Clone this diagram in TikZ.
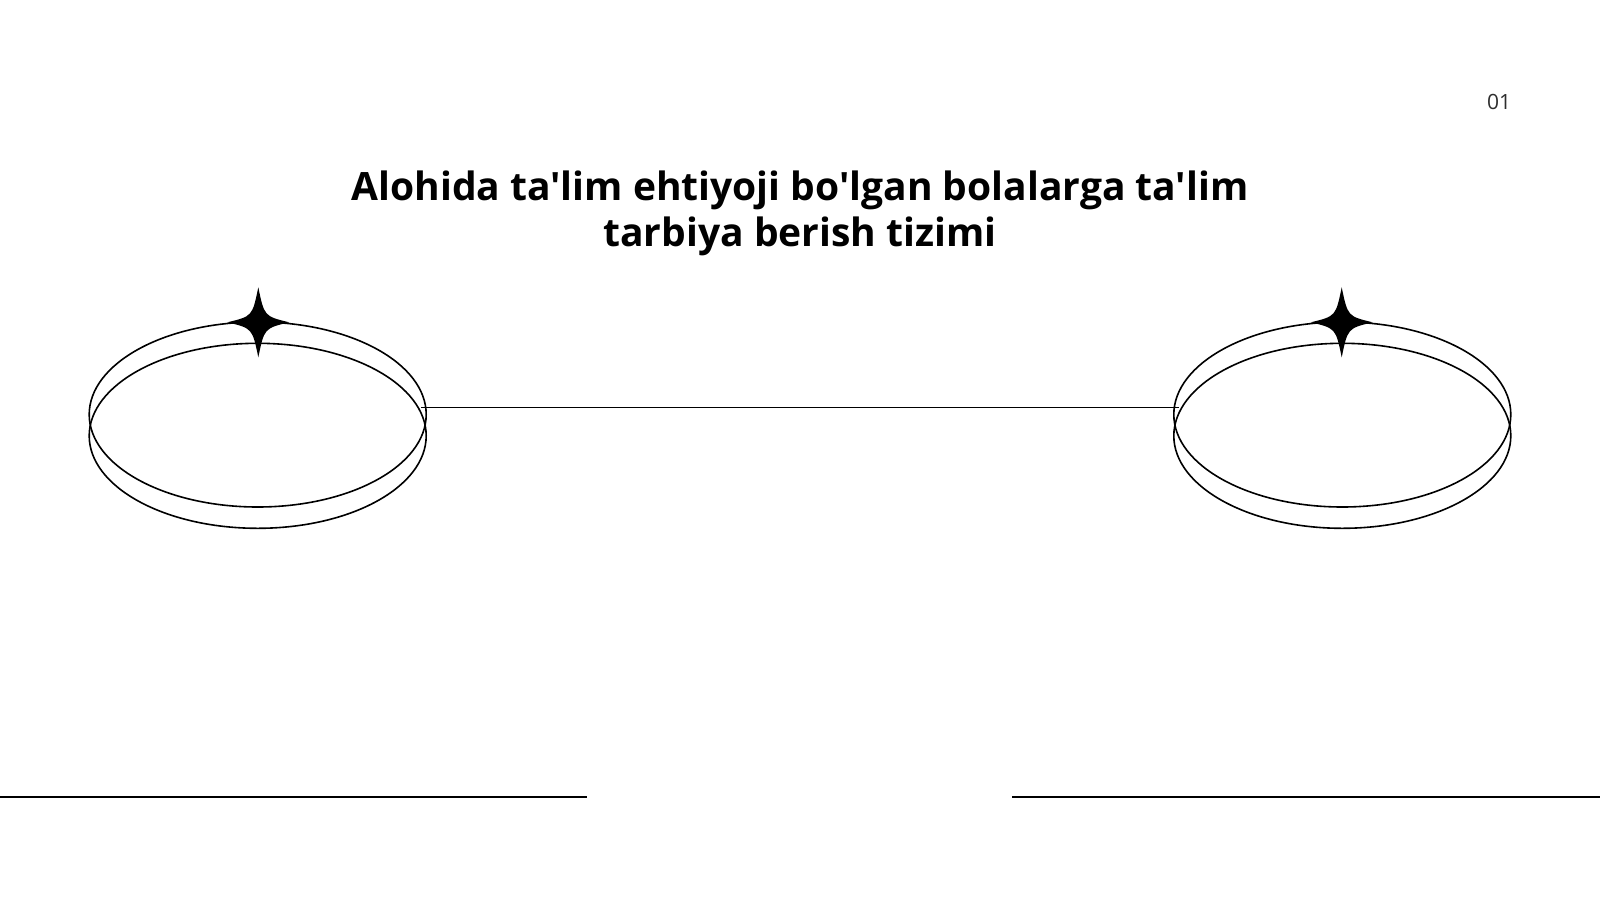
\documentclass[tikz,border=0pt]{standalone}
\usepackage{fontspec}
\newfontfamily\titlefont{Open Sans}
\newfontfamily\numfont{Open Sans}
\usetikzlibrary{shapes.geometric}
\definecolor{numgray}{HTML}{2E2E2E}
\tikzset{
  ring/.style={draw=black, line width=1.6pt, ellipse, inner sep=0pt, minimum width=337pt, minimum height=185pt},
  titletext/.style={font=\titlefont\bfseries\fontsize{39}{46}\selectfont, anchor=base, inner sep=0pt, text=black},
  pagenum/.style={font=\numfont\fontsize{21}{22}\selectfont, text=numgray, anchor=center},
  link/.style={draw=black, line width=1.9pt},
  baseline/.style={draw=black, line width=2pt},
  sparkle/.style={fill=black, draw=none}
}
\newcommand{\mysparkle}[2]{%
  \fill[sparkle] (#1,#2-35) .. controls (#1+6,#2-6) .. (#1+31,#2)
    .. controls (#1+6,#2+6) .. (#1,#2+35)
    .. controls (#1-6,#2+6) .. (#1-31,#2)
    .. controls (#1-6,#2-6) .. cycle;}
\begin{document}
\begin{tikzpicture}[x=1pt,y=-1pt]
\useasboundingbox (0,0) rectangle (1600,900);
\fill[white] (0,0) rectangle (1600,900);
% title
\node[titletext] (t1) at (800,200) {Alohida ta'lim ehtiyoji bo'lgan bolalarga ta'lim};
\node[titletext] (t2) at (800,246) {tarbiya berish tizimi};
% page number
\node[pagenum] (pn) at (1499,102) {01};
% left rings
\node[ring] (la) at (257.7,414.5) {};
\node[ring] (lb) at (257.7,435.8) {};
% right rings
\node[ring] (ra) at (1342.3,414.5) {};
\node[ring] (rb) at (1342.3,435.8) {};
% connector
\coordinate (cl) at (421,407.5);
\coordinate (cr) at (1179,407.5);
\draw[link] (cl) -- (cr);
% sparkles
\mysparkle{258.3}{322.3}
\mysparkle{1341.7}{322.3}
% bottom lines
\coordinate (bl1) at (0,797);
\coordinate (bl2) at (587,797);
\coordinate (br1) at (1012,797);
\coordinate (br2) at (1600,797);
\draw[baseline] (bl1) -- (bl2);
\draw[baseline] (br1) -- (br2);
\end{tikzpicture}
\end{document}
